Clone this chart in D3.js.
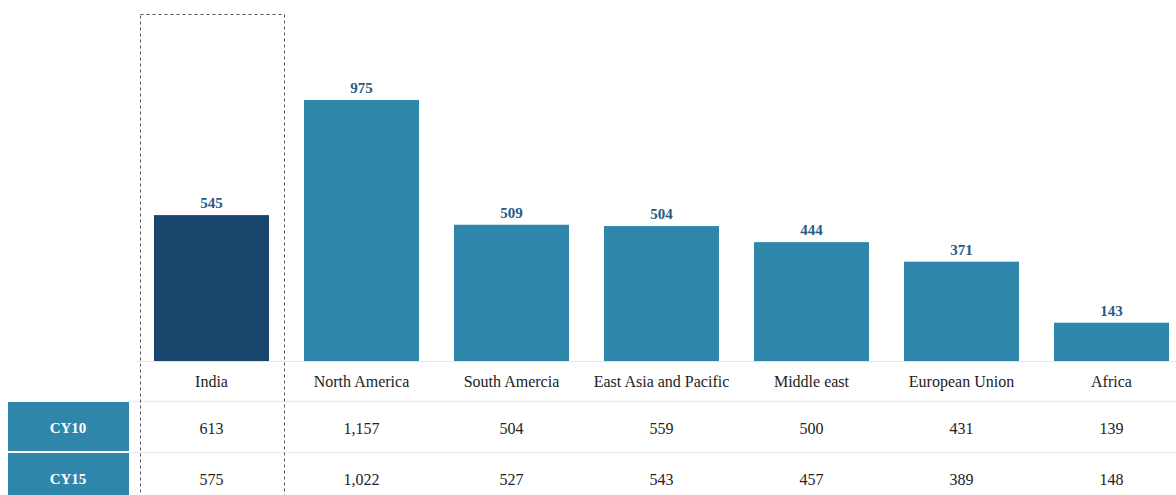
<!DOCTYPE html>
<html><head><meta charset="utf-8">
<script src="https://cdn.jsdelivr.net/npm/d3@7"></script>
<style>body{margin:0;background:#fff}svg{display:block}</style>
</head><body><svg id="c" width="1176" height="495"></svg>
<script>
const categories = ["India","North America","South Amercia","East Asia and Pacific","Middle east","European Union","Africa"];
const values = [545,975,509,504,444,371,143];
const cy10 = ["613","1,157","504","559","500","431","139"];
const cy15 = ["575","1,022","527","543","457","389","148"];
const rowLabels = ["CY10","CY15"];

const svg = d3.select("#c");
const font = "'Liberation Serif','Times New Roman',serif";
const x = d3.scaleBand().domain(categories).range([137.5,1187.5]).paddingInner(0.2333).paddingOuter(0.1167);
const y = d3.scaleLinear().domain([0,975]).range([361,100]);

svg.selectAll("rect.bar").data(values).join("rect").attr("class","bar")
  .attr("x",(d,i)=>x(categories[i])-1).attr("width",x.bandwidth())
  .attr("y",d=>y(d)).attr("height",d=>y(0)-y(d))
  .attr("fill",(d,i)=>i===0?"#1a466e":"#2e86ab");

svg.selectAll("text.val").data(values).join("text").attr("class","val")
  .attr("x",(d,i)=>x(categories[i])-1+x.bandwidth()/2).attr("y",d=>y(d)-7)
  .attr("text-anchor","middle").attr("font-family",font).attr("font-weight","bold")
  .attr("font-size",15).attr("fill","#2a5a85").text(d=>d);

svg.append("line").attr("x1",137).attr("x2",1176).attr("y1",361.5).attr("y2",361.5).attr("stroke","#e6e6e6");

svg.selectAll("text.cat").data(categories).join("text").attr("class","cat")
  .attr("x",d=>x(d)-1+x.bandwidth()/2).attr("y",387).attr("text-anchor","middle")
  .attr("font-family",font).attr("font-size",16).attr("fill","#222").text(d=>d);

// table lines
[401.5,452.5].forEach(yy=>svg.append("line").attr("x1",128).attr("x2",1176).attr("y1",yy).attr("y2",yy).attr("stroke","#ececec").attr("stroke-width",1.5));

const rowY = [402,453];
[cy10,cy15].forEach((row,r)=>{
  svg.append("rect").attr("x",8).attr("y",rowY[r]).attr("width",121).attr("height",49).attr("fill","#2e86ab");
  svg.append("text").attr("x",68).attr("y",rowY[r]+31).attr("text-anchor","middle")
    .attr("font-family",font).attr("font-weight","bold").attr("font-size",15).attr("fill","#fff").text(rowLabels[r]);
  svg.selectAll(null).data(row).join("text")
    .attr("x",(d,i)=>x(categories[i])-1+x.bandwidth()/2).attr("y",rowY[r]+32)
    .attr("text-anchor","middle").attr("font-family",font).attr("font-size",16).attr("fill","#222").text(d=>d);
});

// dashed highlight box around India
svg.append("rect").attr("x",x("India")-14.5).attr("y",14.5).attr("width",x.bandwidth()+29).attr("height",500)
  .attr("fill","none").attr("stroke","#555").attr("stroke-dasharray","3,3").attr("stroke-width",1);
</script></body></html>
